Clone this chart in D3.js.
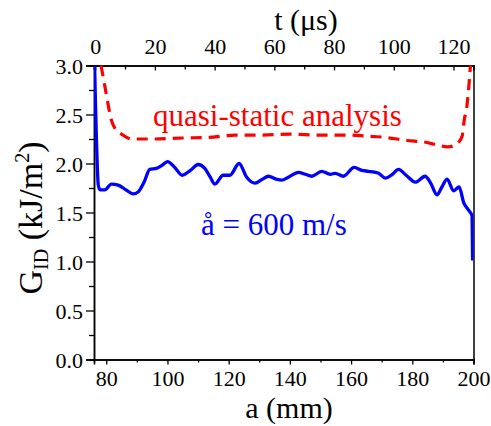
<!DOCTYPE html>
<html>
<head>
<meta charset="utf-8">
<script src="https://cdn.jsdelivr.net/npm/d3@7"></script>
<style>
  html, body { margin: 0; padding: 0; background: #fff; }
  svg text { font-family: 'Liberation Serif', serif !important; }
</style>
</head>
<body>
<svg id="chart" width="491" height="426"></svg>
<script>
// ---- data ----
const blueA = [76.2, 76.5, 76.8, 77.1, 77.4, 78.0, 79.5, 81.7, 83.9, 86.5, 88.8, 90.4, 92.5, 94.2, 96.4, 98.2, 100, 102.4, 104.8, 107.5, 110, 112.2, 114, 115.5, 118.2, 120.4, 123.4, 125.9, 128.6, 131, 133, 135.5, 137.3, 139.5, 142.8, 145, 147.2, 150.4, 153.2, 154.8, 157.5, 161, 163.5, 165.7, 169, 171.2, 173.5, 175.5, 178, 181, 184.2, 186, 188.1, 189.5, 191.4, 193.5, 195.3, 196.8, 198.5, 199.5, 199.7];
const blueG = [3.0, 2.6, 2.25, 1.95, 1.78, 1.73, 1.73, 1.79, 1.78, 1.73, 1.69, 1.71, 1.82, 1.94, 1.95, 1.98, 2.02, 1.96, 1.88, 1.93, 1.99, 1.95, 1.86, 1.79, 1.88, 1.88, 2.00, 1.86, 1.80, 1.84, 1.87, 1.84, 1.83, 1.86, 1.91, 1.89, 1.87, 1.92, 1.89, 1.90, 1.87, 1.96, 1.93, 1.92, 1.90, 1.85, 1.89, 1.94, 1.88, 1.81, 1.87, 1.80, 1.68, 1.75, 1.84, 1.72, 1.76, 1.60, 1.52, 1.47, 1.01];

const redA = [78.3, 79.2, 80, 81.7, 83, 85, 88.2, 95, 105, 115, 122, 130, 140, 150, 158.6, 165, 170, 175, 180, 183.7, 188, 191.5, 193.5, 195.2, 196.3, 197.0, 197.7, 198.4, 199.0];
const redG = [3.0, 2.85, 2.71, 2.44, 2.35, 2.30, 2.25, 2.25, 2.26, 2.27, 2.29, 2.29, 2.30, 2.29, 2.29, 2.28, 2.27, 2.25, 2.23, 2.22, 2.19, 2.17, 2.18, 2.22, 2.28, 2.45, 2.55, 2.76, 3.0];

const aDomain = [76, 200];
const tDomain = [-0.4, 126.7];
const gDomain = [0, 3];
const aTicks = [80, 100, 120, 140, 160, 180, 200];
const aMinor = [90, 110, 130, 150, 170, 190];
const tTicks = [0, 20, 40, 60, 80, 100, 120];
const tMinor = [10, 30, 50, 70, 90, 110];
const gTicks = [0.0, 0.5, 1.0, 1.5, 2.0, 2.5, 3.0];
const gMinor = [0.25, 0.75, 1.25, 1.75, 2.25, 2.75];

const labelQuasi = "quasi-static analysis";
const labelSpeed = "å = 600 m/s";

// ---- layout ----
const FONT = "'Liberation Serif', serif";
const svg = d3.select("#chart");
const L = 94, R = 473.5, T = 65.5, B = 359.5;

const x = d3.scaleLinear().domain(aDomain).range([L, R]);
const xt = d3.scaleLinear().domain(tDomain).range([L, R]);
const y = d3.scaleLinear().domain(gDomain).range([B, T]);

const tickFont = "22px";

// clip
svg.append("defs").append("clipPath").attr("id", "clip")
  .append("rect").attr("x", L).attr("y", T - 2).attr("width", R - L).attr("height", B - T + 2);

// bottom axis
svg.append("g").attr("transform", `translate(0,${B})`)
  .call(d3.axisBottom(x).tickValues(aTicks).tickSize(5).tickPadding(6).tickFormat(d3.format("d")));
svg.append("g").attr("transform", `translate(0,${B})`)
  .call(d3.axisBottom(x).tickValues(aMinor).tickSize(3).tickFormat(""));

// top axis (ticks inward)
svg.append("g").attr("transform", `translate(0,${T})`)
  .call(d3.axisTop(xt).tickValues(tTicks).tickSize(-5).tickPadding(12).tickFormat(d3.format("d")));
svg.append("g").attr("transform", `translate(0,${T})`)
  .call(d3.axisTop(xt).tickValues(tMinor).tickSize(-4).tickFormat(""));

// left axis
const gy = svg.append("g").attr("transform", `translate(${L},0)`)
  .call(d3.axisLeft(y).tickValues(gTicks).tickSize(8).tickPadding(3).tickFormat(d3.format(".1f")));
svg.append("g").attr("transform", `translate(${L},0)`)
  .call(d3.axisLeft(y).tickValues(gMinor).tickSize(5).tickFormat(""));

// right axis (plain line)
svg.append("g").attr("transform", `translate(${R},0)`)
  .call(d3.axisRight(y).tickValues([]).tickSizeOuter(0));

svg.selectAll("g").attr("font-family", FONT);
svg.selectAll(".domain").attr("stroke", "#000").attr("stroke-width", 1.5);
svg.selectAll(".tick line").attr("stroke", "#000").attr("stroke-width", 1.3);
svg.selectAll(".tick text")
  .style("font-family", FONT)
  .attr("font-size", tickFont).attr("fill", "#000");
gy.selectAll(".tick text").attr("dy", "0.36em");

// lines
const blueData = blueA.map((a, i) => ({a, g: blueG[i]}));
const redData = redA.map((a, i) => ({a, g: redG[i]}));

const line = d3.line().x(d => x(d.a)).y(d => y(d.g)).curve(d3.curveMonotoneX);

svg.append("path").datum(redData).attr("clip-path", "url(#clip)")
  .attr("d", line).attr("fill", "none").attr("stroke", "#ff0000")
  .attr("stroke-width", 3.2).attr("stroke-dasharray", "11,7");

svg.append("path").datum(blueData).attr("clip-path", "url(#clip)")
  .attr("d", line).attr("fill", "none").attr("stroke", "#0000ff")
  .attr("stroke-width", 3.3).attr("stroke-linejoin", "round");

function txt(xp, yp, size, color, s, anchor) {
  return svg.append("text").attr("x", xp).attr("y", yp)
    .attr("text-anchor", anchor || "start")
    .style("font-family", FONT)
    .attr("font-size", size).attr("fill", color).text(s);
}

// annotations
txt(153, 126, "31px", "#ff0000", labelQuasi);
txt(201, 235, "31px", "#0000ff", labelSpeed);

// axis titles
txt(306, 30, "30px", "#000", "t (μs)", "middle");
txt(289, 418, "30px", "#000", "a (mm)", "middle");

const yt = svg.append("text")
  .attr("transform", "translate(42,218) rotate(-90)")
  .attr("text-anchor", "middle").attr("font-size", "34px").attr("fill", "#000")
  .style("font-family", FONT);
yt.append("tspan").text("G");
yt.append("tspan").attr("font-size", "20px").attr("dy", "6").text("ID");
yt.append("tspan").attr("dy", "-6").text(" (kJ/m");
yt.append("tspan").attr("font-size", "20px").attr("dy", "-13").text("2");
yt.append("tspan").attr("dy", "13").text(")");
</script>
</body>
</html>
